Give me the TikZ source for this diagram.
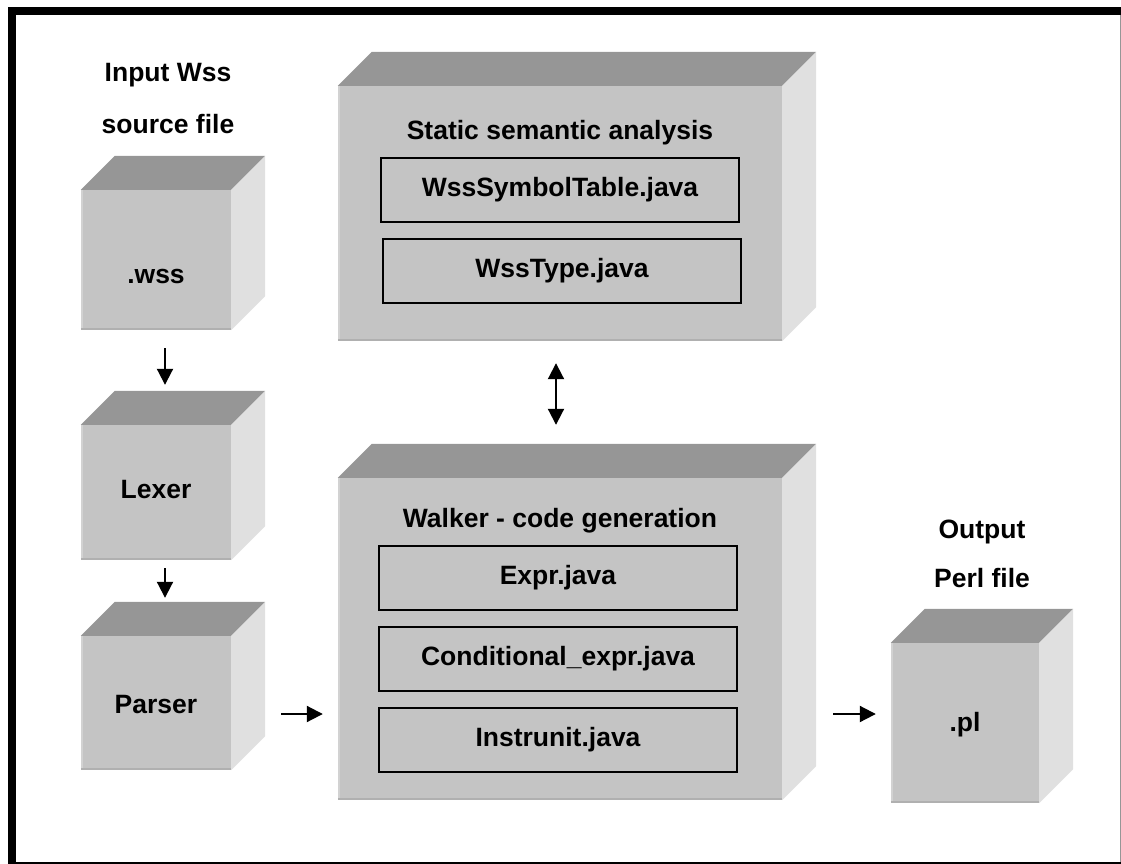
\documentclass[tikz,border=0pt]{standalone}
\usepackage{fontspec}
\setmainfont{Liberation Sans}
\usetikzlibrary{arrows.meta}
\definecolor{frontgray}{RGB}{196,196,196}
\definecolor{topgray}{RGB}{150,150,150}
\definecolor{sidegray}{RGB}{224,224,224}
\definecolor{edgedark}{RGB}{176,176,176}
\definecolor{edgelight}{RGB}{210,210,210}
\definecolor{framegray}{RGB}{150,150,150}
% top and right faces of a cube, drawn on the front node
\newcommand{\boxsides}[1]{%
  \fill[topgray] (#1.north west) -- ([shift={(34,-34)}]#1.north west) -- ([shift={(34,-34)}]#1.north east) -- (#1.north east) -- cycle;
  \fill[sidegray] (#1.north east) -- ([shift={(34,-34)}]#1.north east) -- ([shift={(34,-34)}]#1.south east) -- (#1.south east) -- cycle;
  \draw[edgelight, line width=2pt] ([shift={(1,0)}]#1.north west) -- ([shift={(1,0)}]#1.south west); % lit left edge
  \draw[edgedark, line width=2pt] ([shift={(0,-1)}]#1.south west) -- ([shift={(0,-1)}]#1.south east); % shaded bottom edge
}
\tikzset{
  cube/.style={fill=frontgray, inner sep=0pt},
  txt/.style={font=\fontsize{26.5}{30}\selectfont\bfseries},
  javabox/.style={txt, draw, line width=1.5pt, minimum width=358pt, minimum height=64pt, inner sep=0pt},
  arr/.style={-{Triangle[width=16pt,length=16pt]}, line width=2pt},
  dblarr/.style={{Triangle[width=16pt,length=16pt]}-{Triangle[width=16pt,length=16pt]}, line width=2pt}
}

\begin{document}
\begin{tikzpicture}[x=1pt,y=-1pt]
    \useasboundingbox (0,0) rectangle (1121,864);
    % frame
    \fill[black] (8,7) rectangle (1121,15);
    \fill[black] (8,7) rectangle (16,864);
    \fill[black] (8,862) rectangle (1121,864);
    \draw[framegray, line width=1pt] (1120,15) -- (1120,862);

    % cubes
    \node[cube, minimum width=150pt, minimum height=140pt] (wss) at (156,260) {};
    \boxsides{wss}
    \node[cube, minimum width=150pt, minimum height=135pt] (lexer) at (156,492.5) {};
    \boxsides{lexer}
    \node[cube, minimum width=150pt, minimum height=134pt] (parser) at (156,703) {};
    \boxsides{parser}
    \node[cube, minimum width=444pt, minimum height=255pt] (static) at (560,213.5) {};
    \boxsides{static}
    \node[cube, minimum width=444pt, minimum height=322pt] (walker) at (560,639) {};
    \boxsides{walker}
    \node[cube, minimum width=148pt, minimum height=160pt] (pl) at (965,723) {};
    \boxsides{pl}

    % texts
    \node[txt] (input1) at (168,75) {Input Wss};
    \node[txt] (input2) at (168,124) {source file};
    \node[txt] (output1) at (982,532) {Output};
    \node[txt] (output2) at (982,578) {Perl file};
    \node[txt] (wsstext) at (156,276) {.wss};
    \node[txt] (lexertext) at (156,490) {Lexer};
    \node[txt] (parsertext) at (156,705) {Parser};
    \node[txt] (pltext) at (965,725) {.pl};
    \node[txt] (statictitle) at (560,133) {Static semantic analysis};
    \node[txt] (walkertitle) at (560,521) {Walker - code generation};

    % java files
    \node[javabox] (symtab) at (560,190) {WssSymbolTable.java};
    \node[javabox] (wsstype) at (562,271) {WssType.java};
    \node[javabox] (expr) at (558,578) {Expr.java};
    \node[javabox] (cond) at (558,659) {Conditional\_expr.java};
    \node[javabox] (instr) at (558,740) {Instrunit.java};

    % arrows
    \draw[arr] ([shift={(9,18)}]wss.south) -- ([shift={(9,-40)}]lexer.north);
    \draw[arr] ([shift={(9,8)}]lexer.south) -- ([shift={(9,-38)}]parser.north);
    \draw[arr] ([shift={(50,11)}]parser.east) -- ([shift={(-15,75)}]walker.west);
    \draw[arr] ([shift={(51,75)}]walker.east) -- ([shift={(-15,-9)}]pl.west);
    \draw[dblarr] ([shift={(-4,22)}]static.south) -- ([shift={(-4,-53)}]walker.north);
  \end{tikzpicture}
\end{document}
